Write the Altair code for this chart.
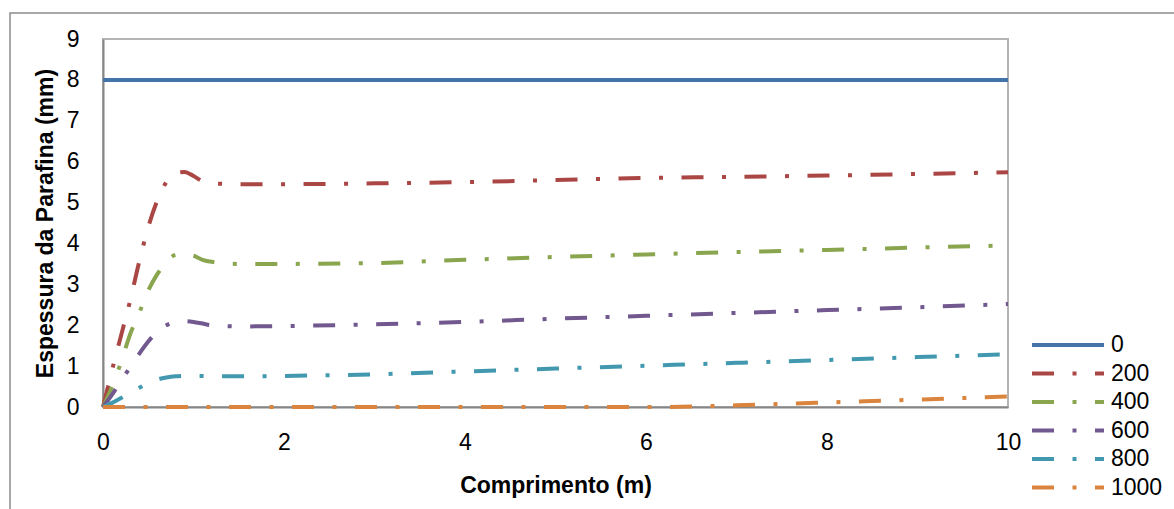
import altair as alt
import pandas as pd

series = ["0", "200", "400", "600", "800", "1000"]
colors = ["#4572A7", "#AA4643", "#89A54E", "#71588F", "#4198AF", "#DB843D"]

x_ticks = [0, 2, 4, 6, 8, 10]
y_ticks = [0, 1, 2, 3, 4, 5, 6, 7, 8, 9]

x_0 = [0, 10]
y_0 = [8, 8]

x_grid = [0, 0.1, 0.2, 0.3, 0.4, 0.5, 0.6, 0.7, 0.8, 0.9, 1.0, 1.1, 1.2, 1.5, 2, 3, 4, 5, 6, 7, 8, 9, 10]
y_200 = [0, 0.9, 1.75, 2.6, 3.55, 4.4, 5.05, 5.5, 5.72, 5.75, 5.65, 5.52, 5.47, 5.45, 5.45, 5.47, 5.5, 5.55, 5.6, 5.63, 5.66, 5.7, 5.74]
y_400 = [0, 0.5, 1.1, 1.78, 2.3, 2.85, 3.25, 3.55, 3.72, 3.75, 3.7, 3.6, 3.55, 3.5, 3.5, 3.52, 3.6, 3.67, 3.73, 3.79, 3.84, 3.9, 3.95]
y_600 = [0, 0.3, 0.65, 0.97, 1.3, 1.6, 1.85, 2.0, 2.08, 2.1, 2.08, 2.04, 2.0, 1.97, 1.98, 2.02, 2.08, 2.16, 2.23, 2.3, 2.37, 2.44, 2.52]
y_800 = [0, 0.1, 0.22, 0.35, 0.47, 0.58, 0.67, 0.72, 0.75, 0.76, 0.76, 0.76, 0.75, 0.75, 0.76, 0.8, 0.87, 0.94, 1.01, 1.08, 1.15, 1.22, 1.29]

x_1000 = [0, 1, 2, 3, 4, 5, 6, 6.5, 7, 8, 9, 10]
y_1000 = [0, 0, 0, 0, 0, 0, 0, 0.01, 0.04, 0.11, 0.18, 0.26]

data_sets = [
    ("0", x_0, y_0),
    ("200", x_grid, y_200),
    ("400", x_grid, y_400),
    ("600", x_grid, y_600),
    ("800", x_grid, y_800),
    ("1000", x_1000, y_1000),
]
rows = []
for name, xs, ys in data_sets:
    for xv, yv in zip(xs, ys):
        rows.append({"serie": name, "x": xv, "y": yv})
df = pd.DataFrame(rows)

dash = [22, 18.5, 4, 18.5]
dashes = [[1, 0], dash, dash, dash, dash, dash]

FONT = "Liberation Sans"

legend = alt.Legend(
    title=None,
    orient="none",
    legendX=927,
    legendY=293,
    symbolType="stroke",
    symbolSize=5184,
    symbolStrokeWidth=4,
    clipHeight=26,
    rowPadding=2.5,
    labelOffset=5,
    labelFontSize=23,
    labelFont=FONT,
    labelColor="#000000",
    padding=0,
)

lines = (
    alt.Chart(df)
    .mark_line(strokeWidth=4, interpolate="monotone", strokeCap="butt")
    .encode(
        x=alt.X(
            "x:Q",
            scale=alt.Scale(domain=[0, 10], nice=False),
            axis=alt.Axis(
                values=x_ticks,
                title="Comprimento (m)",
                titleY=85,
                titleBaseline="alphabetic",
                labelPadding=24,
                labelFlush=False,
            ),
        ),
        y=alt.Y(
            "y:Q",
            scale=alt.Scale(domain=[0, 9], nice=False),
            axis=alt.Axis(
                values=y_ticks,
                title="Espessura da Parafina (mm)",
                titleX=-51,
                titleBaseline="alphabetic",
                labelPadding=24,
            ),
        ),
        color=alt.Color(
            "serie:N",
            sort=series,
            scale=alt.Scale(domain=series, range=colors),
            legend=legend,
        ),
        strokeDash=alt.StrokeDash(
            "serie:N",
            sort=series,
            scale=alt.Scale(domain=series, range=dashes),
            legend=legend,
        ),
    )
)

# decorative outer chart-area frame (Excel chart border)
frame = (
    alt.Chart(pd.DataFrame({"k": [0]}))
    .mark_rect(fill=None, stroke="#8C8C8C", strokeWidth=1.5, clip=False)
    .encode(
        x=alt.value(-93),
        x2=alt.value(1100),
        y=alt.value(-26),
        y2=alt.value(500),
    )
)

chart = (
    alt.layer(frame, lines)
    .properties(
        width=905,
        height=368,
        autosize=alt.AutoSizeParams(type="none"),
        padding={"left": 103, "top": 39, "right": 166, "bottom": 102},
    )
    .configure_view(stroke="#B4B4B4", strokeWidth=2)
    .configure_axis(
        grid=False,
        ticks=False,
        tickSize=0,
        domainColor="#868686",
        domainWidth=2,
        labelFont=FONT,
        labelFontSize=23,
        labelColor="#000000",
        titleFont=FONT,
        titleFontSize=23,
        titleFontWeight="bold",
        titleColor="#000000",
    )
)

chart.save("out.html", embed_options={"renderer": "svg", "actions": False})
